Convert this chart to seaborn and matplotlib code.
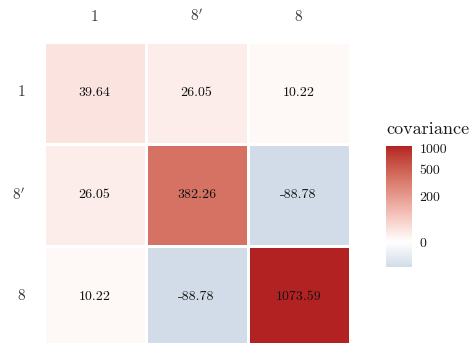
import numpy as np
import pandas as pd
import matplotlib
matplotlib.use("Agg")
import matplotlib.pyplot as plt
import seaborn as sns
from matplotlib.colors import FuncNorm, ListedColormap, to_rgb

# ---- data -------------------------------------------------------------
labels = ["1", "$8'$", "8"]
cov_row_1 = [39.64, 26.05, 10.22]
cov_row_8p = [26.05, 382.26, -88.78]
cov_row_8 = [10.22, -88.78, 1073.59]
cbar_ticks = [0, 200, 500, 1000]
cbar_ticklabels = ["0", "200", "500", "1000"]

cov = pd.DataFrame([cov_row_1, cov_row_8p, cov_row_8], index=labels, columns=labels)

# ---- style ------------------------------------------------------------
sns.set_theme(style="white")
plt.rcParams["font.family"] = ["cmr10"]
plt.rcParams["mathtext.fontset"] = "cm"
plt.rcParams["axes.unicode_minus"] = False
plt.rcParams["axes.formatter.use_mathtext"] = True

# ---- colour scale: pseudo-log transform, diverging through white -------
def fwd(x):
    return np.arcsinh(np.asarray(x, dtype=float) / 100.0)


def inv(y):
    return np.sinh(np.asarray(y, dtype=float)) * 100.0


_M = np.array([[0.4124, 0.3576, 0.1805],
               [0.2126, 0.7152, 0.0722],
               [0.0193, 0.1192, 0.9505]])
_WP = np.array([0.95047, 1.0, 1.08883])


def _lin(c):
    c = np.asarray(c, dtype=float)
    return np.where(c <= 0.04045, c / 12.92, ((c + 0.055) / 1.055) ** 2.4)


def _gam(c):
    c = np.clip(c, 0, None)
    return np.where(c <= 0.0031308, 12.92 * c, 1.055 * np.power(c, 1 / 2.4) - 0.055)


def rgb2lab(rgb):
    xyz = _M @ _lin(rgb) / _WP
    f = np.where(xyz > 0.008856, np.cbrt(xyz), 7.787 * xyz + 16 / 116)
    return np.array([116 * f[1] - 16, 500 * (f[0] - f[1]), 200 * (f[1] - f[2])])


def lab2rgb(lab):
    fy = (lab[0] + 16) / 116
    f = np.array([fy + lab[1] / 500, fy, fy - lab[2] / 200])
    xyz = np.where(f > 0.206893, f ** 3, (f - 16 / 116) / 7.787) * _WP
    return np.clip(_gam(np.linalg.solve(_M, xyz)), 0, 1)


vmin = float(cov.values.min())
vmax = float(cov.values.max())
zero_pos = (fwd(0) - fwd(vmin)) / (fwd(vmax) - fwd(vmin))

low_lab = rgb2lab(to_rgb("#d1dce8"))
mid_lab = rgb2lab(to_rgb("#ffffff"))
high_lab = rgb2lab(to_rgb("#b22222"))

colors = []
for t in np.linspace(0, 1, 512):
    if t < zero_pos:
        w = (zero_pos - t) / zero_pos
        lab = mid_lab + w * (low_lab - mid_lab)
    else:
        w = (t - zero_pos) / (1 - zero_pos)
        lab = mid_lab + w * (high_lab - mid_lab)
    colors.append(lab2rgb(lab))
cmap = ListedColormap(colors)
norm = FuncNorm((fwd, inv), vmin=vmin, vmax=vmax)

# ---- figure -----------------------------------------------------------
W, H = 475, 343
fig = plt.figure(figsize=(W / 100, H / 100), dpi=100)
ax = fig.add_axes([43.5 / W, (H - 347.5) / H, 306 / W, 306 / H])
cax = fig.add_axes([386 / W, (H - 267) / H, 26 / W, 121 / H])

sns.heatmap(
    cov, ax=ax, cbar_ax=cax, cmap=cmap, norm=norm,
    annot=True, fmt=".2f",
    annot_kws={"color": "#111111", "fontsize": 10},
    linewidths=2.16, linecolor="white",
    cbar_kws={"ticks": cbar_ticks},
)

ax.xaxis.tick_top()
ax.set_xlabel("")
ax.set_ylabel("")
ax.set_xticklabels(labels, rotation=0, fontsize=11, color="#3a3a3a")
ax.set_yticklabels(labels, rotation=0, fontsize=11, color="#3a3a3a")
ax.tick_params(axis="x", length=0, pad=12.5)
ax.tick_params(axis="y", length=0, pad=13.3)

cbar = ax.collections[0].colorbar
cbar.outline.set_visible(False)
cbar.ax.minorticks_off()
cbar.set_ticks(cbar_ticks)
cbar.set_ticklabels(cbar_ticklabels)
cbar.ax.tick_params(axis="y", which="major", direction="in", color="white",
                    length=3.6, width=0.8, left=True, right=True,
                    labelsize=10, labelcolor="#1a1a1a", pad=5.5)
cax.annotate("covariance", xy=(0, 1), xycoords="axes fraction",
             xytext=(0, 9), textcoords="offset pixels",
             ha="left", va="bottom", fontsize=13, color="#1a1a1a")

fig.savefig("out.png", dpi=100)
